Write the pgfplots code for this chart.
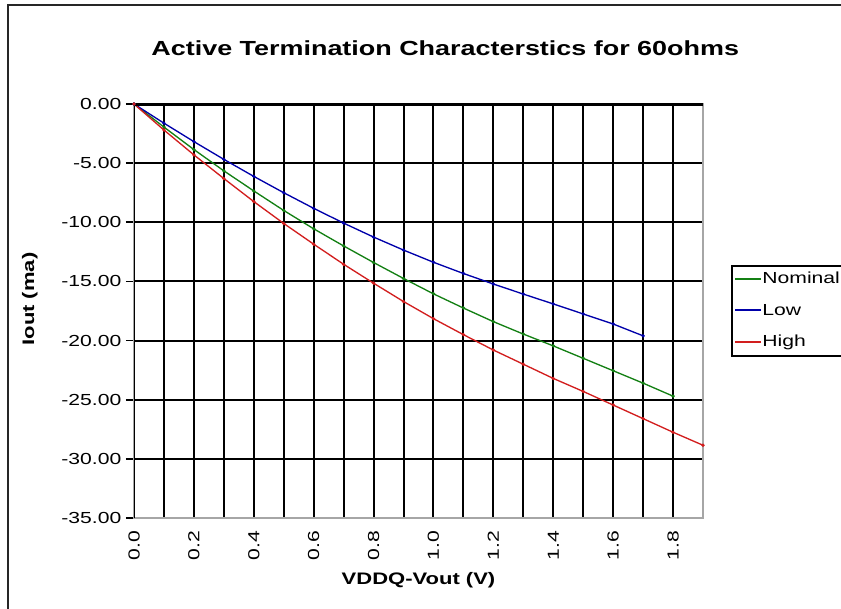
\documentclass[border=0pt]{standalone}
\usepackage{fontspec}
\setmainfont{Liberation Sans}[FakeStretch=1.32]
\usepackage{pgfplots}
\pgfplotsset{compat=1.18}

\definecolor{nomgreen}{RGB}{20,128,20}
\definecolor{lowblue}{RGB}{0,0,170}
\definecolor{highred}{RGB}{210,30,30}

\begin{document}
\begin{tikzpicture}[x=1pt,y=1pt]
% page = 841x609 px at 0.75pt per px, axis origin at px (134,518)
\useasboundingbox (-100.5,-68.25) rectangle (530.25,388.5);
\draw[line width=1.5pt, black!85] (-94.5,-90) -- (-94.5,384.75) -- (560,384.75);
\begin{axis}[
    at={(0,0)}, anchor=south west,
    scale only axis,
    width=426.75pt, height=310.5pt,
    xmin=0, xmax=1.9,
    ymin=-35, ymax=0,
    xtick={0,0.2,0.4,0.6,0.8,1.0,1.2,1.4,1.6,1.8},
    minor xtick={0.1,0.3,0.5,0.7,0.9,1.1,1.3,1.5,1.7},
    ytick={-35,-30,-25,-20,-15,-10,-5,0},
    ytick pos=left,
    /pgf/number format/assume math mode=true,
    xticklabel style={rotate=90, anchor=east, font=\fontsize{12}{14}\selectfont,
        /pgf/number format/.cd, fixed, fixed zerofill, precision=1},
    yticklabel style={font=\fontsize{12}{14}\selectfont,
        /pgf/number format/.cd, fixed, fixed zerofill, precision=2},
    grid=both,
    major grid style={black, line width=1.5pt},
    minor grid style={black, line width=1.5pt},
    axis line style={draw=gray!70, line width=1pt},
    xtick style={draw=none},
    minor tick length=0pt,
    ytick style={black, line width=1.2pt},
    tick align=outside,
    major tick length=6pt,
    title={Active Termination Characterstics for 60ohms},
    title style={font=\bfseries\fontsize{15.3}{17}\selectfont, at={(axis description cs:0.547,1.115)}, anchor=center},
    xlabel={VDDQ-Vout (V)},
    xlabel style={font=\bfseries\fontsize{12.5}{14}\selectfont, at={(axis description cs:0.5,-0.15)}, anchor=center},
    ylabel={Iout (ma)},
    ylabel style={font=\bfseries\fontsize{12.5}{14}\selectfont, at={(axis description cs:-0.183,0.529)}, anchor=center, rotate=0},
    legend style={at={(axis description cs:1.0492,0.611)}, anchor=north west,
        draw=black, line width=1.2pt, font=\fontsize{12}{14}\selectfont,
        inner xsep=2pt, inner ysep=4pt, row sep=11pt,
        nodes={inner sep=0.5pt, text height=9pt, text depth=2.5pt}},
    legend cell align=left,
    legend image code/.code={\draw[#1, line width=1.5pt] (0pt,0.4pt) -- (19pt,0.4pt);},
]

\addplot[color=nomgreen, line width=1pt, mark=*, mark size=0.7pt]
    coordinates {
    (0.0,0)(0.1,-1.95)(0.2,-3.85)(0.3,-5.65)(0.4,-7.35)(0.5,-9.0)(0.6,-10.55)(0.7,-12.0)(0.8,-13.4)(0.9,-14.75)
    (1.0,-16.05)(1.1,-17.25)(1.2,-18.4)(1.3,-19.45)(1.4,-20.45)(1.5,-21.5)(1.6,-22.55)(1.7,-23.6)(1.8,-24.7)
    };
    \addlegendentry{Nominal};

\addplot[color=lowblue, line width=1pt, mark=*, mark size=0.7pt]
    coordinates {
    (0.0,0)(0.1,-1.62)(0.2,-3.18)(0.3,-4.68)(0.4,-6.12)(0.5,-7.5)(0.6,-8.82)(0.7,-10.07)(0.8,-11.25)(0.9,-12.35)
    (1.0,-13.38)(1.1,-14.33)(1.2,-15.22)(1.3,-16.07)(1.4,-16.9)(1.5,-17.75)(1.6,-18.6)(1.7,-19.6)
    };
    \addlegendentry{Low};

\addplot[color=highred, line width=1pt, mark=*, mark size=0.7pt]
    coordinates {
    (0.0,0)(0.1,-2.2)(0.2,-4.3)(0.3,-6.3)(0.4,-8.25)(0.5,-10.1)(0.6,-11.85)(0.7,-13.55)(0.8,-15.15)(0.9,-16.7)
    (1.0,-18.15)(1.1,-19.5)(1.2,-20.8)(1.3,-22.0)(1.4,-23.2)(1.5,-24.3)(1.6,-25.45)(1.7,-26.6)(1.8,-27.75)(1.9,-28.85)
    };
    \addlegendentry{High};

% thick zero line at the top and black value axis
\draw[black, line width=3pt] (rel axis cs:0,1) -- (rel axis cs:1,1);
\draw[black, line width=1.5pt] (rel axis cs:0,0) -- (rel axis cs:0,1);
\end{axis}
\end{tikzpicture}
\end{document}
